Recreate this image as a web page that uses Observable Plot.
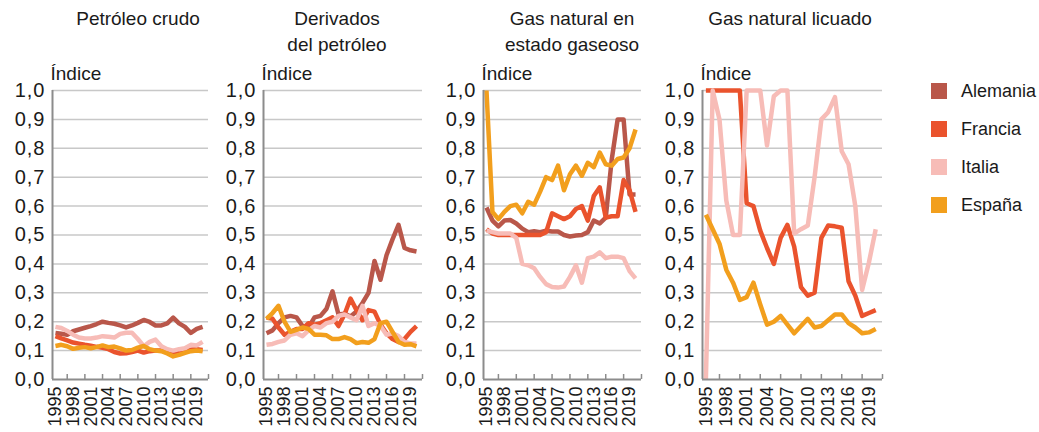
<!DOCTYPE html>
<html>
<head>
<meta charset="utf-8">
<script src="https://cdn.jsdelivr.net/npm/d3@7"></script>
<script src="https://cdn.jsdelivr.net/npm/@observablehq/plot@0.6"></script>
<style>
  body { margin: 0; background: #fff; font-family: "Liberation Sans", Arial, sans-serif; color: #1a1a1a; }
  #root { position: relative; width: 1039px; height: 432px; overflow: hidden; }
  .title { position: absolute; top: 6px; font-size: 19px; line-height: 26px; text-align: center; transform: translateX(-50%); white-space: nowrap; }
  .panel { position: absolute; top: 55px; }
  .item { position: absolute; left: 931px; display: flex; align-items: center; font-size: 18px; white-space: nowrap; height: 20px; }
  .sw { width: 16px; height: 16px; margin-right: 14px; flex: none; }
</style>
</head>
<body>
<div id="root"></div>
<script>
// ---------- DATA ----------
const years = [1995,1996,1997,1998,1999,2000,2001,2002,2003,2004,2005,2006,2007,2008,2009,2010,2011,2012,2013,2014,2015,2016,2017,2018,2019,2020];
const yearLabels = [1995,1998,2001,2004,2007,2010,2013,2016,2019];
const yTicks = [0,0.1,0.2,0.3,0.4,0.5,0.6,0.7,0.8,0.9,1.0];
const countries = ["Alemania","Francia","Italia","España"];
const colors = ["#b9574a","#ea532d","#f7bcb7","#f29f1d"];
const panelTitles = [["Petróleo crudo"],["Derivados","del petróleo"],["Gas natural en","estado gaseoso"],["Gas natural licuado"]];
const yLabel = "Índice";

// Petróleo crudo
const crudoAlemania = [0.161,0.158,0.155,0.167,0.173,0.179,0.185,0.192,0.200,0.196,0.193,0.187,0.180,0.187,0.196,0.206,0.199,0.187,0.187,0.194,0.214,0.194,0.182,0.161,0.175,0.182];
const crudoFrancia  = [0.150,0.142,0.135,0.128,0.124,0.120,0.117,0.113,0.110,0.105,0.095,0.090,0.091,0.095,0.100,0.093,0.098,0.100,0.100,0.098,0.095,0.097,0.100,0.103,0.105,0.102];
const crudoItalia   = [0.182,0.178,0.168,0.155,0.145,0.142,0.142,0.145,0.150,0.148,0.145,0.158,0.162,0.162,0.140,0.115,0.130,0.138,0.115,0.105,0.100,0.105,0.108,0.120,0.118,0.130];
const crudoEspana   = [0.116,0.120,0.115,0.106,0.110,0.112,0.108,0.112,0.118,0.112,0.114,0.108,0.100,0.102,0.110,0.116,0.105,0.100,0.098,0.090,0.080,0.085,0.092,0.098,0.100,0.098];

// Derivados del petróleo
const derivAlemania = [0.160,0.170,0.195,0.215,0.220,0.215,0.185,0.180,0.215,0.220,0.245,0.305,0.225,0.228,0.218,0.235,0.265,0.300,0.410,0.345,0.430,0.485,0.535,0.455,0.447,0.443];
const derivFrancia  = [0.215,0.210,0.180,0.155,0.165,0.175,0.175,0.195,0.190,0.195,0.205,0.215,0.185,0.225,0.280,0.240,0.205,0.240,0.235,0.190,0.160,0.140,0.130,0.140,0.165,0.185];
const derivItalia   = [0.120,0.123,0.130,0.135,0.155,0.160,0.150,0.170,0.185,0.180,0.195,0.200,0.220,0.225,0.215,0.205,0.255,0.185,0.195,0.185,0.155,0.160,0.150,0.130,0.125,0.125];
const derivEspana   = [0.210,0.230,0.255,0.200,0.165,0.172,0.180,0.175,0.155,0.155,0.153,0.140,0.140,0.147,0.140,0.126,0.130,0.127,0.140,0.195,0.200,0.165,0.130,0.120,0.122,0.115];

// Gas natural en estado gaseoso
const gasAlemania = [0.595,0.550,0.530,0.550,0.552,0.540,0.522,0.510,0.513,0.510,0.515,0.512,0.512,0.500,0.495,0.498,0.500,0.510,0.550,0.540,0.560,0.760,0.900,0.900,0.640,0.640];
const gasFrancia  = [0.520,0.505,0.500,0.500,0.500,0.500,0.500,0.500,0.500,0.500,0.510,0.575,0.565,0.555,0.565,0.590,0.600,0.550,0.635,0.665,0.560,0.565,0.565,0.690,0.655,0.580];
const gasItalia   = [0.515,0.510,0.505,0.505,0.505,0.490,0.400,0.395,0.385,0.355,0.330,0.320,0.318,0.322,0.355,0.395,0.335,0.420,0.425,0.440,0.420,0.425,0.425,0.420,0.375,0.350];
const gasEspana   = [1.000,0.580,0.555,0.580,0.600,0.605,0.575,0.615,0.605,0.650,0.700,0.690,0.740,0.655,0.710,0.740,0.705,0.750,0.735,0.785,0.745,0.740,0.763,0.768,0.800,0.865];

// Gas natural licuado (Alemania sin datos)
const gnlAlemania = null;
const gnlFrancia  = [1.000,1.000,1.000,1.000,1.000,1.000,0.610,0.600,0.515,0.455,0.400,0.490,0.535,0.460,0.320,0.290,0.300,0.490,0.533,0.530,0.525,0.340,0.290,0.220,0.230,0.240];
const gnlItalia   = [0.000,1.000,0.900,0.620,0.500,0.500,1.000,1.000,1.000,0.810,0.980,1.000,1.000,0.505,0.520,0.533,0.700,0.900,0.925,0.977,0.790,0.745,0.600,0.310,0.405,0.520];
const gnlEspana   = [0.570,0.520,0.470,0.380,0.335,0.275,0.285,0.335,0.260,0.190,0.200,0.220,0.190,0.160,0.185,0.210,0.180,0.185,0.205,0.225,0.225,0.195,0.180,0.160,0.163,0.175];

const series = [
  [crudoAlemania, crudoFrancia, crudoItalia, crudoEspana],
  [derivAlemania, derivFrancia, derivItalia, derivEspana],
  [gasAlemania, gasFrancia, gasItalia, gasEspana],
  [gnlAlemania, gnlFrancia, gnlItalia, gnlEspana]
];

// ---------- LAYOUT ----------
const layout = [
  {axis: 52,  w: 156, title: 138},
  {axis: 263, w: 159, title: 337},
  {axis: 483, w: 158, title: 572},
  {axis: 702, w: 180, title: 790}
];
const mL = 52, mR = 6, mT = 35, mB = 53, H = 377;
const innerH = H - mT - mB;
const xDomain = [years[0] - 0.5, yearLabels[yearLabels.length - 1] + 2];
const tickYears = yearLabels.map(y => y + 2);
const fmt = d => d.toFixed(1).replace(".", ",");
const axisColor = "#8c8c8c";
const font = "'Liberation Sans', Arial, sans-serif";

const root = document.getElementById("root");

layout.forEach((L, pi) => {
  const t = document.createElement("div");
  t.className = "title";
  t.style.left = L.title + "px";
  t.innerHTML = panelTitles[pi].join("<br>");
  root.appendChild(t);

  const rows = [];
  countries.forEach((c, ci) => {
    const vals = series[pi][ci];
    if (!vals) return;
    vals.forEach((v, k) => rows.push({year: years[k], value: v, country: c}));
  });

  const svg = Plot.plot({
    width: mL + L.w + mR, height: H,
    marginLeft: mL, marginRight: mR, marginTop: mT, marginBottom: mB,
    x: {domain: xDomain, axis: null},
    y: {domain: [0, 1], axis: null},
    color: {domain: countries, range: colors},
    style: {fontFamily: font, background: "transparent", overflow: "visible", color: "#1a1a1a"},
    marks: [
      Plot.gridY(yTicks.filter(d => d > 0), {stroke: "#c8c8c8", strokeOpacity: 1, strokeWidth: 1.5}),
      Plot.axisY(yTicks, {tickSize: 0, tickPadding: 7, fontSize: 20, tickFormat: fmt, label: null, fill: "#1a1a1a"}),
      Plot.axisX(yearLabels, {tickSize: 0, tickPadding: 7, tickRotate: -90, fontSize: 18, tickFormat: d => String(d), label: null, fill: "#1a1a1a"}),
      Plot.text([yLabel], {frameAnchor: "top-left", textAnchor: "start", dx: -2, dy: -24, fontSize: 19, fill: "#1a1a1a"}),
      Plot.line(rows, {x: "year", y: "value", z: "country", stroke: "country", strokeWidth: 4.5, strokeLinejoin: "round", strokeLinecap: "butt"}),
      Plot.tickX(tickYears, {x: d => d, stroke: axisColor, strokeWidth: 1.5, insetTop: innerH - 5}),
      Plot.ruleY([0], {stroke: axisColor, strokeWidth: 2}),
      Plot.ruleX([xDomain[0]], {stroke: axisColor, strokeWidth: 2})
    ]
  });
  d3.select(svg).selectAll("[aria-label='y-axis tick label'] text").style("letter-spacing", "1px");
  const wrap = document.createElement("div");
  wrap.className = "panel";
  wrap.style.left = (L.axis - mL) + "px";
  wrap.appendChild(svg);
  root.appendChild(wrap);
});

countries.forEach((c, i) => {
  const it = document.createElement("div");
  it.className = "item";
  it.style.top = (81 + i * 38) + "px";
  it.innerHTML = `<span class="sw" style="background:${colors[i]}"></span><span>${c}</span>`;
  root.appendChild(it);
});
</script>
</body>
</html>
